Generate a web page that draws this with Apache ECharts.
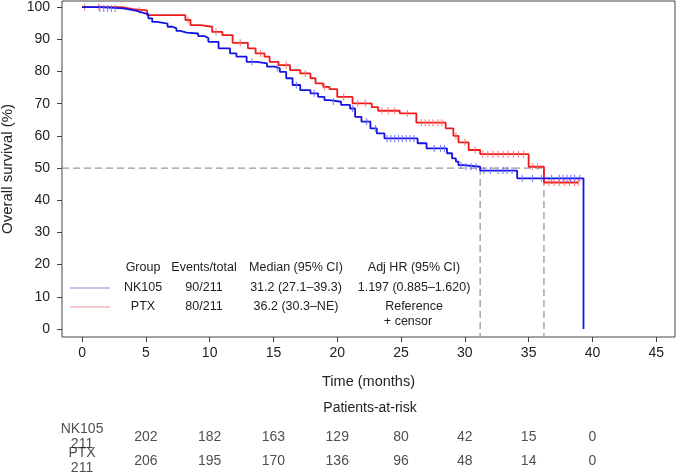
<!DOCTYPE html>
<html>
<head>
<meta charset="utf-8">
<script src="https://cdn.jsdelivr.net/npm/echarts@6/dist/echarts.min.js"></script>
<style>html,body{margin:0;padding:0;background:#fff}#c{width:676px;height:474px}</style>
</head>
<body>
<div id="c"></div>
<script>
// ---- Data ----
const nkTime = [0,1.4,3.2,3.8,4.3,4.8,5.2,5.5,5.9,6.7,7.1,7.4,7.7,8.2,9.1,9.6,9.9,10.7,11.6,12.1,12.9,13.7,14.5,15.1,15.5,16.0,16.5,17.1,17.9,18.5,19.0,19.4,20.3,21.0,21.4,21.9,22.6,23.1,23.7,26.3,27.0,28.6,29.0,29.3,29.5,29.9,31.2,34.1,39.3];
const nkSurv = [100,99.6,99.2,98.8,98.2,97.8,96.5,95.4,94.9,93.9,93.4,92.6,92.1,91.8,91.0,90.4,89.2,87.2,85.6,84.6,83.0,82.5,81.5,81.0,79.9,77.9,75.8,74.2,73.2,72.1,71.1,70.6,69.6,68.5,65.9,64.4,62.3,60.8,59.2,57.7,56.1,54.6,53.0,52.0,50.9,50.4,49.2,46.8,0];
const ptxTime = [0,3.1,4.0,5.1,8.1,8.5,9.3,10.2,11.0,11.8,13.0,13.6,14.3,14.7,15.4,16.3,17.1,17.9,18.3,18.9,19.4,20.0,21.2,22.7,23.2,24.9,26.2,28.5,29.1,29.5,30.3,31.2,35.0,36.2,38.9];
const ptxSurv = [100,99.4,99.0,97.5,96.0,94.4,93.9,92.3,91.3,88.9,87.2,85.6,84.6,83.0,82.0,80.4,79.4,77.9,76.3,75.2,74.5,72.1,70.1,68.9,67.8,67.0,64.1,62.3,60.0,58.0,55.6,54.3,50.4,45.5,45.5];
const nkCensor = [1.4,1.7,2.0,2.3,2.6,13.3,15.3,16.8,18.2,19.7,21.2,22.3,23.0,23.9,24.2,24.5,24.8,25.1,25.4,25.7,26.0,27.6,28.1,28.4,29.7,30.1,30.5,30.9,31.5,32.0,32.6,33.0,33.3,33.7,34.5,35.3,36.0,36.8,37.4,37.7,38.0,38.3,38.6,39.0];
const ptxCensor = [0.2,1.3,4.5,8.3,10.5,12.4,14.0,16.0,17.5,19.0,20.5,21.6,22.2,23.5,24.0,24.5,25.5,26.6,26.9,27.2,27.5,27.9,28.2,29.3,30.0,30.8,31.4,31.8,32.2,32.6,33.0,33.4,33.8,34.2,34.6,35.3,35.7,36.6,37.0,37.4,37.8,38.2,38.6,38.9];
const medians = [31.2, 36.2];
const medianLevel = 50;
const xTicks = [0,5,10,15,20,25,30,35,40,45];
const yTicks = [0,10,20,30,40,50,60,70,80,90,100];
const riskTimes = [5,10,15,20,25,30,35,40];
const riskNK = [202,182,163,129,80,42,15,0];
const riskPTX = [206,195,170,136,96,48,14,0];
const groups = ['NK105','PTX'];
const groupN = ['211','211'];
const eventsTotal = ['90/211','80/211'];
const medianCI = ['31.2 (27.1\u201339.3)','36.2 (30.3\u2013NE)'];
const adjHR = ['1.197 (0.885\u20131.620)','Reference'];

// ---- helpers ----
const XMIN = -1.57, XMAX = 46.47, YMIN = -2.5, YMAX = 101.9;
const pairs = (t, s) => t.map((v, i) => [v, s[i]]);
function survAt(t, times, surv) {
  let v = surv[0];
  for (let i = 0; i < times.length; i++) { if (times[i] <= t) v = surv[i]; }
  return v;
}
const FONT = 'Liberation Sans, Arial, Helvetica, sans-serif';
const BLUE = '#1414e6', RED = '#f01c1c';

const chart = echarts.init(document.getElementById('c'), null, {renderer: 'canvas'});

const legendY = [288, 307];
const colX = [143, 204, 296, 414];
const txt = (text, x, y, size) => ({type:'text', style:{text, x, y, align:'center', verticalAlign:'middle', fontSize:size || 12.5, fontFamily:FONT, fill:'#222'}});
const graphics = [
  txt('Group', colX[0], 268), txt('Events/total', colX[1], 268), txt('Median (95% CI)', colX[2], 268), txt('Adj HR (95% CI)', colX[3], 268),
  txt('+ censor', 408, 322),
  txt('Patients-at-risk', 370, 408, 14)
];
groups.forEach((g, i) => {
  const y = legendY[i];
  graphics.push({type:'line', shape:{x1:70, y1:y, x2:110, y2:y}, style:{stroke: i===0 ? '#8a8ad8' : '#e89494', lineWidth:1}});
  [g, eventsTotal[i], medianCI[i], adjHR[i]].forEach((t, j) => graphics.push(txt(t, colX[j], y)));
});

const riskData = [];
groups.forEach((g, i) => {
  riskData.push([0, g, g + '\n' + groupN[i]]);
  const vals = i === 0 ? riskNK : riskPTX;
  riskTimes.forEach((t, j) => riskData.push([t, g, String(vals[j])]));
});

const option = {
  animation: false,
  backgroundColor: '#fff',
  textStyle: {fontFamily: FONT},
  grid: [
    {left:62, top:1, width:613, height:336, show:true, borderColor:'#444', borderWidth:1, backgroundColor:'transparent', containLabel:false, outerBoundsMode:'none'},
    {left:62, top:425, width:613, height:48, show:false, containLabel:false, outerBoundsMode:'none'}
  ],
  xAxis: [
    {type:'value', gridIndex:0, min:XMIN, max:XMAX,
     name:'Time (months)', nameLocation:'middle', nameGap:37, nameTextStyle:{fontSize:14.5, color:'#222', fontFamily:FONT},
     axisLine:{show:false, onZero:false}, splitLine:{show:false},
     axisTick:{show:true, length:5, lineStyle:{color:'#444'}, customValues:xTicks},
     axisLabel:{show:true, fontSize:14, color:'#222', margin:9, fontFamily:FONT, customValues:xTicks}},
    {type:'value', gridIndex:1, min:XMIN, max:XMAX, show:false, axisLine:{onZero:false}}
  ],
  yAxis: [
    {type:'value', gridIndex:0, min:YMIN, max:YMAX,
     name:'Overall survival (%)', nameLocation:'middle', nameGap:42, nameRotate:90, nameTextStyle:{fontSize:15, color:'#222', fontFamily:FONT},
     axisLine:{show:false, onZero:false}, splitLine:{show:false},
     axisTick:{show:true, length:5, lineStyle:{color:'#444'}, customValues:yTicks},
     axisLabel:{show:true, fontSize:14, color:'#222', margin:12, fontFamily:FONT, customValues:yTicks}},
    {type:'category', gridIndex:1, data:groups, inverse:true, show:false, axisLine:{onZero:false}}
  ],
  graphic: graphics,
  series: [
    {type:'line', name:'median-h', xAxisIndex:0, yAxisIndex:0, data:[[XMIN, medianLevel],[Math.max(...medians), medianLevel]], symbol:'none', lineStyle:{color:'#9a9a9a', width:1.3, type:[7,4]}, z:1, silent:true},
    ...medians.map(m => ({type:'line', xAxisIndex:0, yAxisIndex:0, data:[[m, medianLevel],[m, YMIN]], symbol:'none', lineStyle:{color:'#9a9a9a', width:1.3, type:[7,4]}, z:1, silent:true})),
    {type:'line', name:'PTX', data:pairs(ptxTime, ptxSurv), step:'end', symbol:'none', lineStyle:{color:RED, width:1.8}, z:3},
    {type:'scatter', name:'PTX censor', data:ptxCensor.map(t => [t, survAt(t, ptxTime, ptxSurv)]), symbol:'rect', symbolSize:[1.2,7], itemStyle:{color:'#ff6a6a'}, z:3},
    {type:'line', name:'NK105', data:pairs(nkTime, nkSurv), step:'end', symbol:'none', lineStyle:{color:BLUE, width:1.8}, z:4},
    {type:'scatter', name:'NK105 censor', data:nkCensor.map(t => [t, survAt(t, nkTime, nkSurv)]), symbol:'rect', symbolSize:[1.2,7], itemStyle:{color:'#6a6aff'}, z:4},
    {type:'scatter', name:'at risk', xAxisIndex:1, yAxisIndex:1, data:riskData, symbolSize:0,
     label:{show:true, position:'inside', formatter:p => p.value[2], fontSize:14, lineHeight:15, color:'#222', fontFamily:FONT}}
  ]
};
chart.setOption(option);
</script>
</body>
</html>
